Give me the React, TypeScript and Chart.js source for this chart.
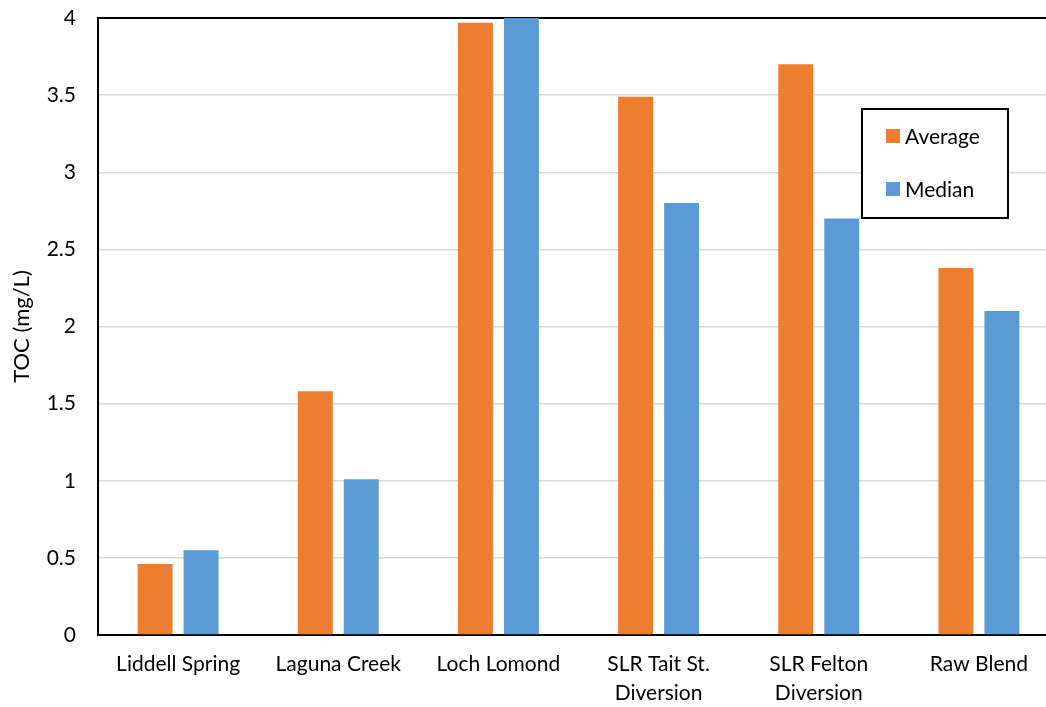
import React, { useEffect, useRef } from "react";
import { Chart, registerables } from "chart.js";

Chart.register(...registerables);

const categories: (string | string[])[] = [
  "Liddell Spring",
  "Laguna Creek",
  "Loch Lomond",
  ["SLR Tait St.", "Diversion"],
  ["SLR Felton", "Diversion"],
  "Raw Blend",
];
const averageValues = [0.46, 1.58, 3.97, 3.49, 3.7, 2.38];
const medianValues = [0.55, 1.01, 4.0, 2.8, 2.7, 2.1];
const yTicks = [0, 0.5, 1, 1.5, 2, 2.5, 3, 3.5, 4];

const FONT = "Lato, 'Open Sans', sans-serif";

const boxLegend = {
  id: "boxLegend",
  afterDraw(chart: any) {
    const ctx = chart.ctx;
    const x = 862, y = 109, w = 146, h = 109;
    ctx.save();
    ctx.fillStyle = "#ffffff";
    ctx.fillRect(x, y, w, h);
    ctx.strokeStyle = "#000000";
    ctx.lineWidth = 2;
    ctx.strokeRect(x, y, w, h);
    const items = chart.data.datasets;
    ctx.font = `21px ${FONT}`;
    ctx.textBaseline = "middle";
    ctx.textAlign = "left";
    items.forEach((ds: any, i: number) => {
      const cy = y + 27 + i * 53;
      ctx.fillStyle = ds.backgroundColor;
      ctx.fillRect(x + 24, cy - 7, 14, 14);
      ctx.fillStyle = "#000000";
      ctx.fillText(ds.label, x + 43, cy + 1);
    });
    ctx.restore();
  },
};

export default function App() {
  const ref = useRef<HTMLCanvasElement>(null);
  useEffect(() => {
    document.body.style.margin = "0";
    const chart = new Chart(ref.current!, {
      type: "bar",
      data: {
        labels: categories,
        datasets: [
          {
            label: "Average",
            data: averageValues,
            backgroundColor: "#ED7D31",
            borderWidth: 0,
            categoryPercentage: 0.574,
            barPercentage: 0.76,
          },
          {
            label: "Median",
            data: medianValues,
            backgroundColor: "#5B9BD5",
            borderWidth: 0,
            categoryPercentage: 0.574,
            barPercentage: 0.76,
          },
        ],
      },
      options: {
        animation: false,
        responsive: false,
        maintainAspectRatio: false,
        layout: { padding: { top: 18, left: 0, right: 0, bottom: 0 } },
        plugins: {
          legend: { display: false },
          tooltip: { enabled: false },
        },
        scales: {
          x: {
            grid: { display: false, drawTicks: false },
            border: { display: true, color: "#000000", width: 2 },
            ticks: {
              color: "#000000",
              font: { family: FONT, size: 21, lineHeight: 1.38 },
              padding: 15,
              maxRotation: 0,
              autoSkip: false,
            },
            afterFit: (s: any) => {
              s.height = 72;
              s.paddingLeft = 0;
              s.paddingRight = 0;
            },
          },
          y: {
            min: 0,
            max: 4,
            afterBuildTicks: (s: any) => {
              s.ticks = yTicks.map((v) => ({ value: v }));
            },
            grid: {
              drawTicks: false,
              color: (c: any) => (c.tick && c.tick.value === 4 ? "#000000" : "#d9d9d9"),
              lineWidth: (c: any) => (c.tick && c.tick.value === 4 ? 2 : 1.5),
            },
            border: { display: true, color: "#000000", width: 2 },
            ticks: {
              color: "#000000",
              font: { family: FONT, size: 21 },
              padding: 22,
              callback: (v: any) => String(v),
            },
            title: {
              display: true,
              text: "TOC (mg/L)",
              color: "#000000",
              font: { family: FONT, size: 22 },
              padding: { top: 9, bottom: 0 },
            },
            afterFit: (s: any) => {
              s.width = 98;
              s.paddingTop = 0;
              s.paddingBottom = 0;
            },
          },
        },
      },
      plugins: [boxLegend],
    });
    return () => chart.destroy();
  }, []);
  return (
    <div style={{ width: 1046, height: 707, overflow: "hidden" }}>
      <canvas ref={ref} width={1059} height={707} style={{ display: "block" }} />
    </div>
  );
}
